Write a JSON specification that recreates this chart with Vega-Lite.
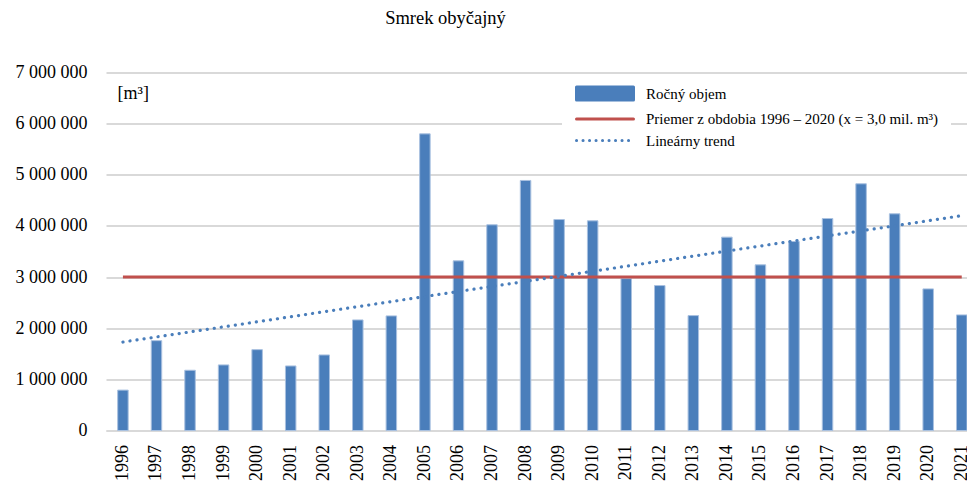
{
  "$schema": "https://vega.github.io/schema/vega-lite/v6.json",
  "width": 861,
  "height": 358,
  "autosize": "none",
  "padding": {"left": 106, "top": 72.5, "right": 0, "bottom": 52.5},
  "background": "white",
  "title": {"text": "Smrek obyčajný", "font": "Liberation Serif", "fontSize": 18.5, "fontWeight": "normal", "color": "black", "anchor": "middle", "dx": -91, "offset": 36, "frame": "group"},
  "datasets": {
    "bars": [
      {"year": 1996, "objem": 790000, "s": "Ročný objem"},
      {"year": 1997, "objem": 1757000, "s": "Ročný objem"},
      {"year": 1998, "objem": 1178000, "s": "Ročný objem"},
      {"year": 1999, "objem": 1282000, "s": "Ročný objem"},
      {"year": 2000, "objem": 1581000, "s": "Ročný objem"},
      {"year": 2001, "objem": 1262000, "s": "Ročný objem"},
      {"year": 2002, "objem": 1477000, "s": "Ročný objem"},
      {"year": 2003, "objem": 2162000, "s": "Ročný objem"},
      {"year": 2004, "objem": 2241000, "s": "Ročný objem"},
      {"year": 2005, "objem": 5800000, "s": "Ročný objem"},
      {"year": 2006, "objem": 3317000, "s": "Ročný objem"},
      {"year": 2007, "objem": 4022000, "s": "Ročný objem"},
      {"year": 2008, "objem": 4889000, "s": "Ročný objem"},
      {"year": 2009, "objem": 4125000, "s": "Ročný objem"},
      {"year": 2010, "objem": 4100000, "s": "Ročný objem"},
      {"year": 2011, "objem": 2970000, "s": "Ročný objem"},
      {"year": 2012, "objem": 2834000, "s": "Ročný objem"},
      {"year": 2013, "objem": 2247000, "s": "Ročný objem"},
      {"year": 2014, "objem": 3781000, "s": "Ročný objem"},
      {"year": 2015, "objem": 3239000, "s": "Ročný objem"},
      {"year": 2016, "objem": 3695000, "s": "Ročný objem"},
      {"year": 2017, "objem": 4145000, "s": "Ročný objem"},
      {"year": 2018, "objem": 4824000, "s": "Ročný objem"},
      {"year": 2019, "objem": 4237000, "s": "Ročný objem"},
      {"year": 2020, "objem": 2769000, "s": "Ročný objem"},
      {"year": 2021, "objem": 2260000, "s": "Ročný objem"}
    ],
    "avg": [
      {"year": 1996, "objem": 3000000, "s": "Priemer z obdobia 1996 – 2020 (x = 3,0 mil. m³)"},
      {"year": 2021, "objem": 3000000, "s": "Priemer z obdobia 1996 – 2020 (x = 3,0 mil. m³)"}
    ],
    "trend": [
      {"year": 1996, "objem": 1730000, "s": "Lineárny trend"},
      {"year": 2021, "objem": 4200000, "s": "Lineárny trend"}
    ]
  },
  "encoding": {
    "x": {
      "field": "year",
      "type": "ordinal",
      "scale": {"type": "band", "paddingInner": 0.687, "paddingOuter": 0.174, "align": 1},
      "axis": {
        "title": null,
        "labelAngle": -90,
        "labelAlign": "right",
        "labelBaseline": "middle",
        "labelPadding": 14,
        "labelFont": "Liberation Serif",
        "labelFontSize": 18,
        "labelColor": "black",
        "ticks": false,
        "domain": true,
        "domainColor": "#d9d9d9",
        "domainWidth": 2,
        "grid": false
      }
    },
    "y": {
      "field": "objem",
      "type": "quantitative",
      "scale": {"domain": [0, 7000000], "nice": false},
      "axis": {
        "values": [0, 1000000, 2000000, 3000000, 4000000, 5000000, 6000000, 7000000],
        "labelExpr": "replace(replace(format(datum.value, ','), ',', ' '), ',', ' ')",
        "labelFont": "Liberation Serif",
        "labelFontSize": 18,
        "labelColor": "black",
        "labelPadding": 19,
        "ticks": false,
        "domain": false,
        "grid": true,
        "gridColor": "#d9d9d9",
        "gridWidth": 2,
        "title": "[m³]",
        "titleAngle": 0,
        "titleAlign": "left",
        "titleBaseline": "top",
        "titleX": 11,
        "titleY": 12,
        "titleFont": "Liberation Serif",
        "titleFontSize": 18,
        "titleFontWeight": "normal",
        "titleColor": "black"
      }
    },
    "color": {
      "field": "s",
      "type": "nominal",
      "scale": {
        "domain": ["Ročný objem", "Priemer z obdobia 1996 – 2020 (x = 3,0 mil. m³)", "Lineárny trend"],
        "range": ["#4a7ebb", "#c0504d", "#4a7ebb"]
      },
      "legend": {
        "orient": "none",
        "legendX": 456,
        "legendY": 1.5,
        "title": null,
        "fillColor": "white",
        "padding": 12,
        "symbolSize": 100,
        "labelFont": "Liberation Serif",
        "labelFontSize": 15,
        "labelColor": "black",
        "labelOffset": 57,
        "labelLimit": 0,
        "rowPadding": 5.5,
        "encode": {
          "symbols": {
            "update": {
              "shape": {"signal": "datum.value === 'Ročný objem' ? 'M-1,-1.3H10.4V1.3H-1Z' : 'M-1,0H10.4'"},
              "fill": {"signal": "datum.value === 'Ročný objem' ? '#4a7ebb' : 'transparent'"},
              "stroke": {"signal": "datum.value === 'Ročný objem' ? 'transparent' : (datum.value === 'Lineárny trend' ? '#4a7ebb' : '#c0504d')"},
              "strokeDash": {"signal": "datum.value === 'Lineárny trend' ? [0.1, 6.4] : [1, 0]"},
              "strokeCap": {"value": "round"},
              "strokeWidth": {"value": 3},
              "size": {"value": 100},
              "opacity": {"value": 1}
            }
          }
        }
      }
    }
  },
  "layer": [
    {
      "data": {"name": "bars"},
      "mark": {"type": "bar", "stroke": "#a9c1e0", "strokeWidth": 1}
    },
    {
      "data": {"name": "avg"},
      "mark": {"type": "line", "strokeWidth": 3}
    },
    {
      "data": {"name": "trend"},
      "mark": {"type": "line", "strokeWidth": 3.2, "strokeDash": [0.1, 7], "strokeCap": "round"}
    }
  ],
  "config": {
    "view": {"stroke": null}
  }
}
